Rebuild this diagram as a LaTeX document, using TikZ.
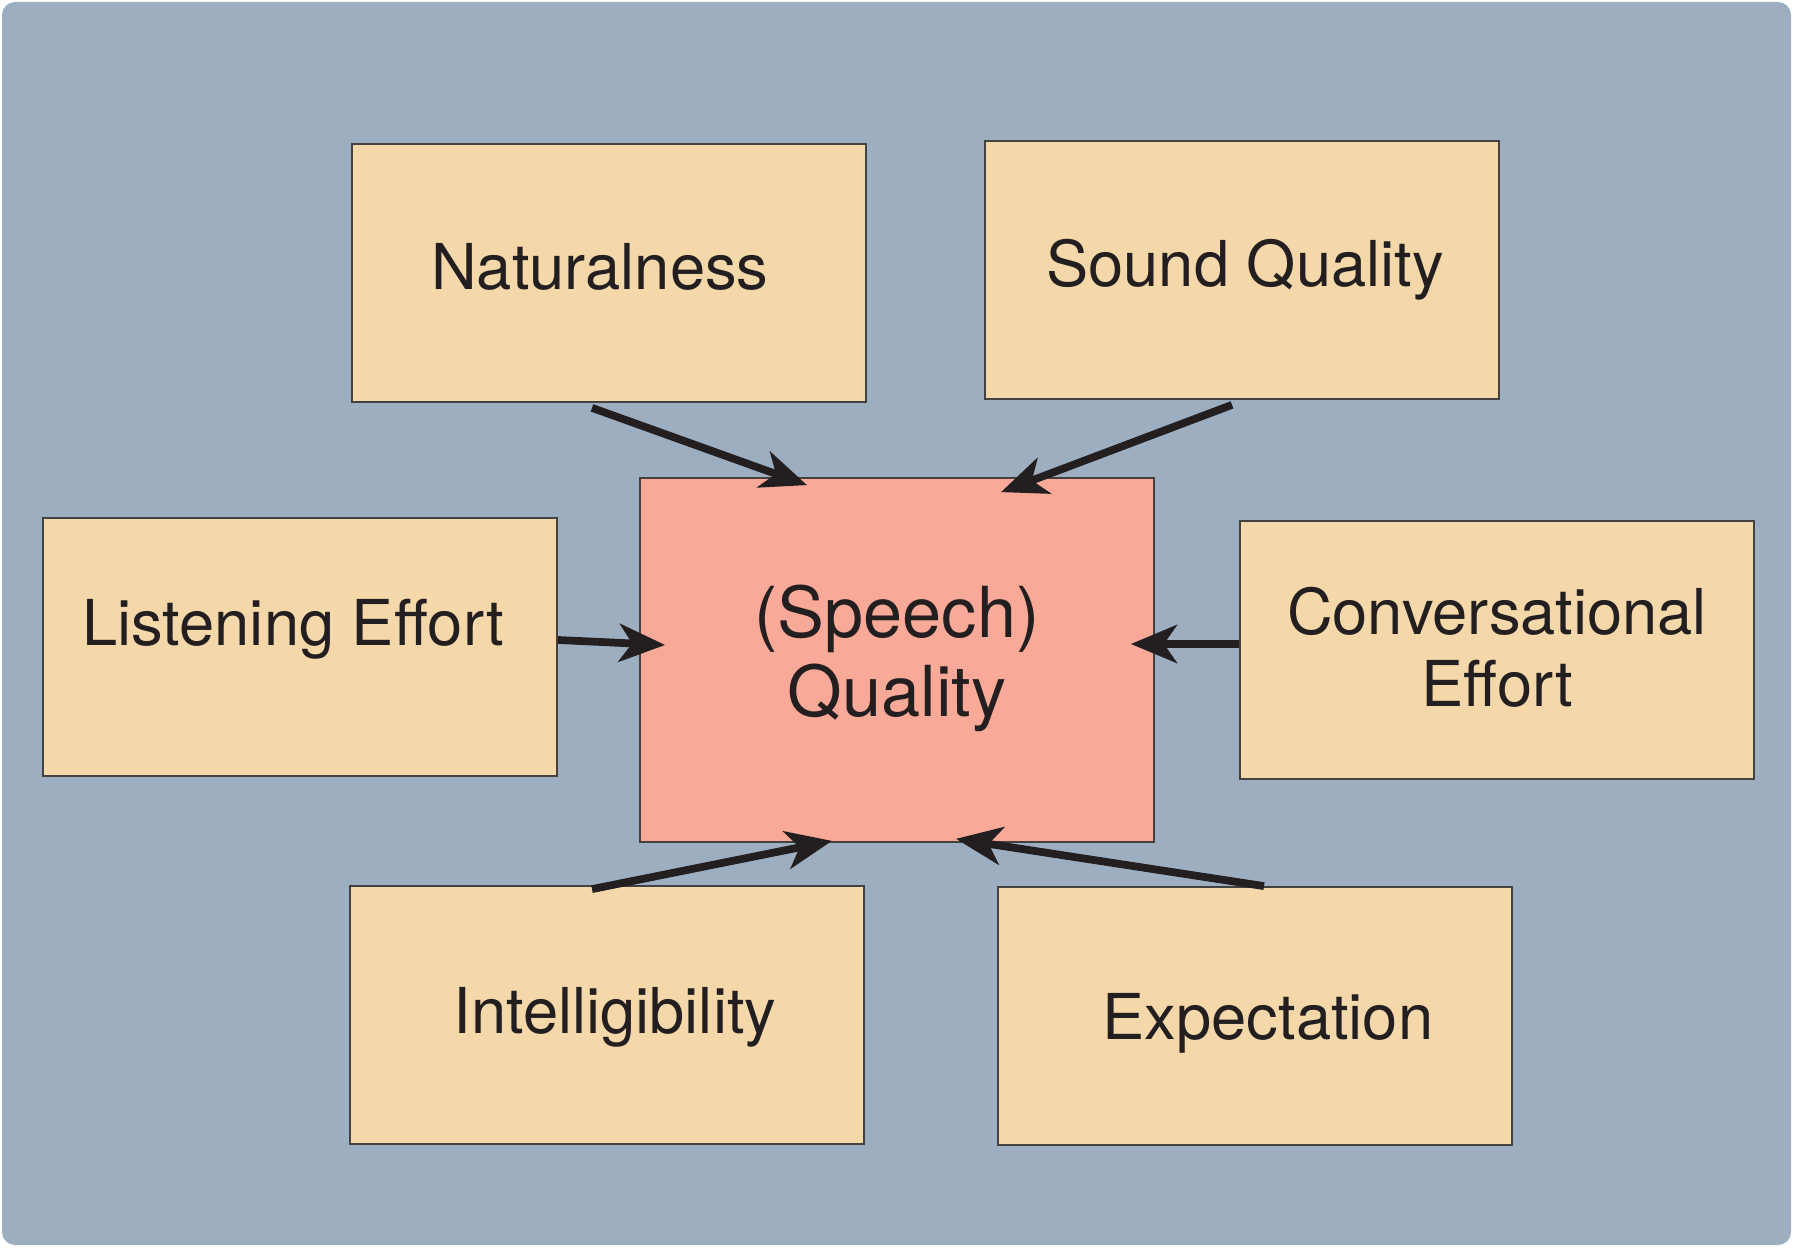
\documentclass[tikz,border=0pt]{standalone}
\usepackage{fontspec}
\setmainfont{TeX Gyre Heros}
\usetikzlibrary{arrows.meta}
\definecolor{backblue}{HTML}{9DAEC1}
\definecolor{factorfill}{HTML}{F4D8AA}
\definecolor{qualityfill}{HTML}{F8A997}
\definecolor{inkdark}{HTML}{231F20}
\begin{document}
\begin{tikzpicture}[
    factor/.style={draw=inkdark!85, line width=0.5pt, fill=factorfill,
      minimum width=5.14cm, minimum height=2.58cm, inner sep=0pt},
    quality/.style={factor, fill=qualityfill, minimum height=3.64cm},
    boxtext/.style={align=center, text=inkdark, inner sep=0pt,
      font=\fontsize{18}{20.5}\selectfont},
    qualitytext/.style={boxtext, font=\fontsize{20}{22.5}\selectfont},
    flow/.style={draw=inkdark, line width=2.2pt,
      -{Stealth[length=0.46cm, width=0.38cm, inset=0.13cm]}}]
    \useasboundingbox (0,0) rectangle (17.93,12.47);
    \fill[backblue, rounded corners=0.13cm] (0.02,0.02) rectangle (17.91,12.45);
    % boxes
    \node[quality] (spq) at (8.97,5.87) {};
    \node[factor] (nat) at (6.09,9.74) {};
    \node[factor] (sq) at (12.42,9.77) {};
    \node[factor] (le) at (3.00,6.00) {};
    \node[factor] (ce) at (14.97,5.97) {};
    \node[factor] (intel) at (6.07,2.32) {};
    \node[factor] (exp) at (12.55,2.31) {};
    % texts
    \node[qualitytext] (spqText) at ([yshift=0.02cm]spq.center) {(Speech)\\Quality};
    \node[boxtext] (natText) at ([xshift=-0.09cm,yshift=0.06cm]nat.center) {Naturalness};
    \node[boxtext] (sqText) at ([xshift=0.03cm]sq.center) {Sound Quality};
    \node[boxtext] (leText) at ([xshift=-0.07cm,yshift=0.18cm]le.center) {Listening Effort};
    \node[boxtext] (ceText) at ([yshift=0.03cm]ce.center) {Conversational\\Effort};
    \node[boxtext] (intelText) at ([xshift=0.08cm,yshift=-0.02cm]intel.center) {Intelligibility};
    \node[boxtext] (expText) at ([xshift=0.13cm,yshift=-0.07cm]exp.center) {Expectation};
    % arrows
    \draw[flow] ([xshift=-0.17cm,yshift=-0.05cm]nat.south) -- ([xshift=-0.90cm,yshift=-0.08cm]spq.north);
    \draw[flow] ([xshift=-0.10cm,yshift=-0.05cm]sq.south) -- ([xshift=1.04cm,yshift=-0.15cm]spq.north);
    \draw[flow] ([yshift=0.07cm]le.east) -- ([xshift=0.26cm,yshift=0.15cm]spq.west);
    \draw[flow] ([yshift=0.06cm]ce.west) -- ([xshift=-0.24cm,yshift=0.16cm]spq.east);
    \draw[flow] ([xshift=-0.15cm,yshift=-0.04cm]intel.north) -- ([xshift=-0.65cm,yshift=0.02cm]spq.south);
    \draw[flow] ([xshift=0.09cm]exp.north) -- ([xshift=0.59cm,yshift=0.04cm]spq.south);
  \end{tikzpicture}
\end{document}
